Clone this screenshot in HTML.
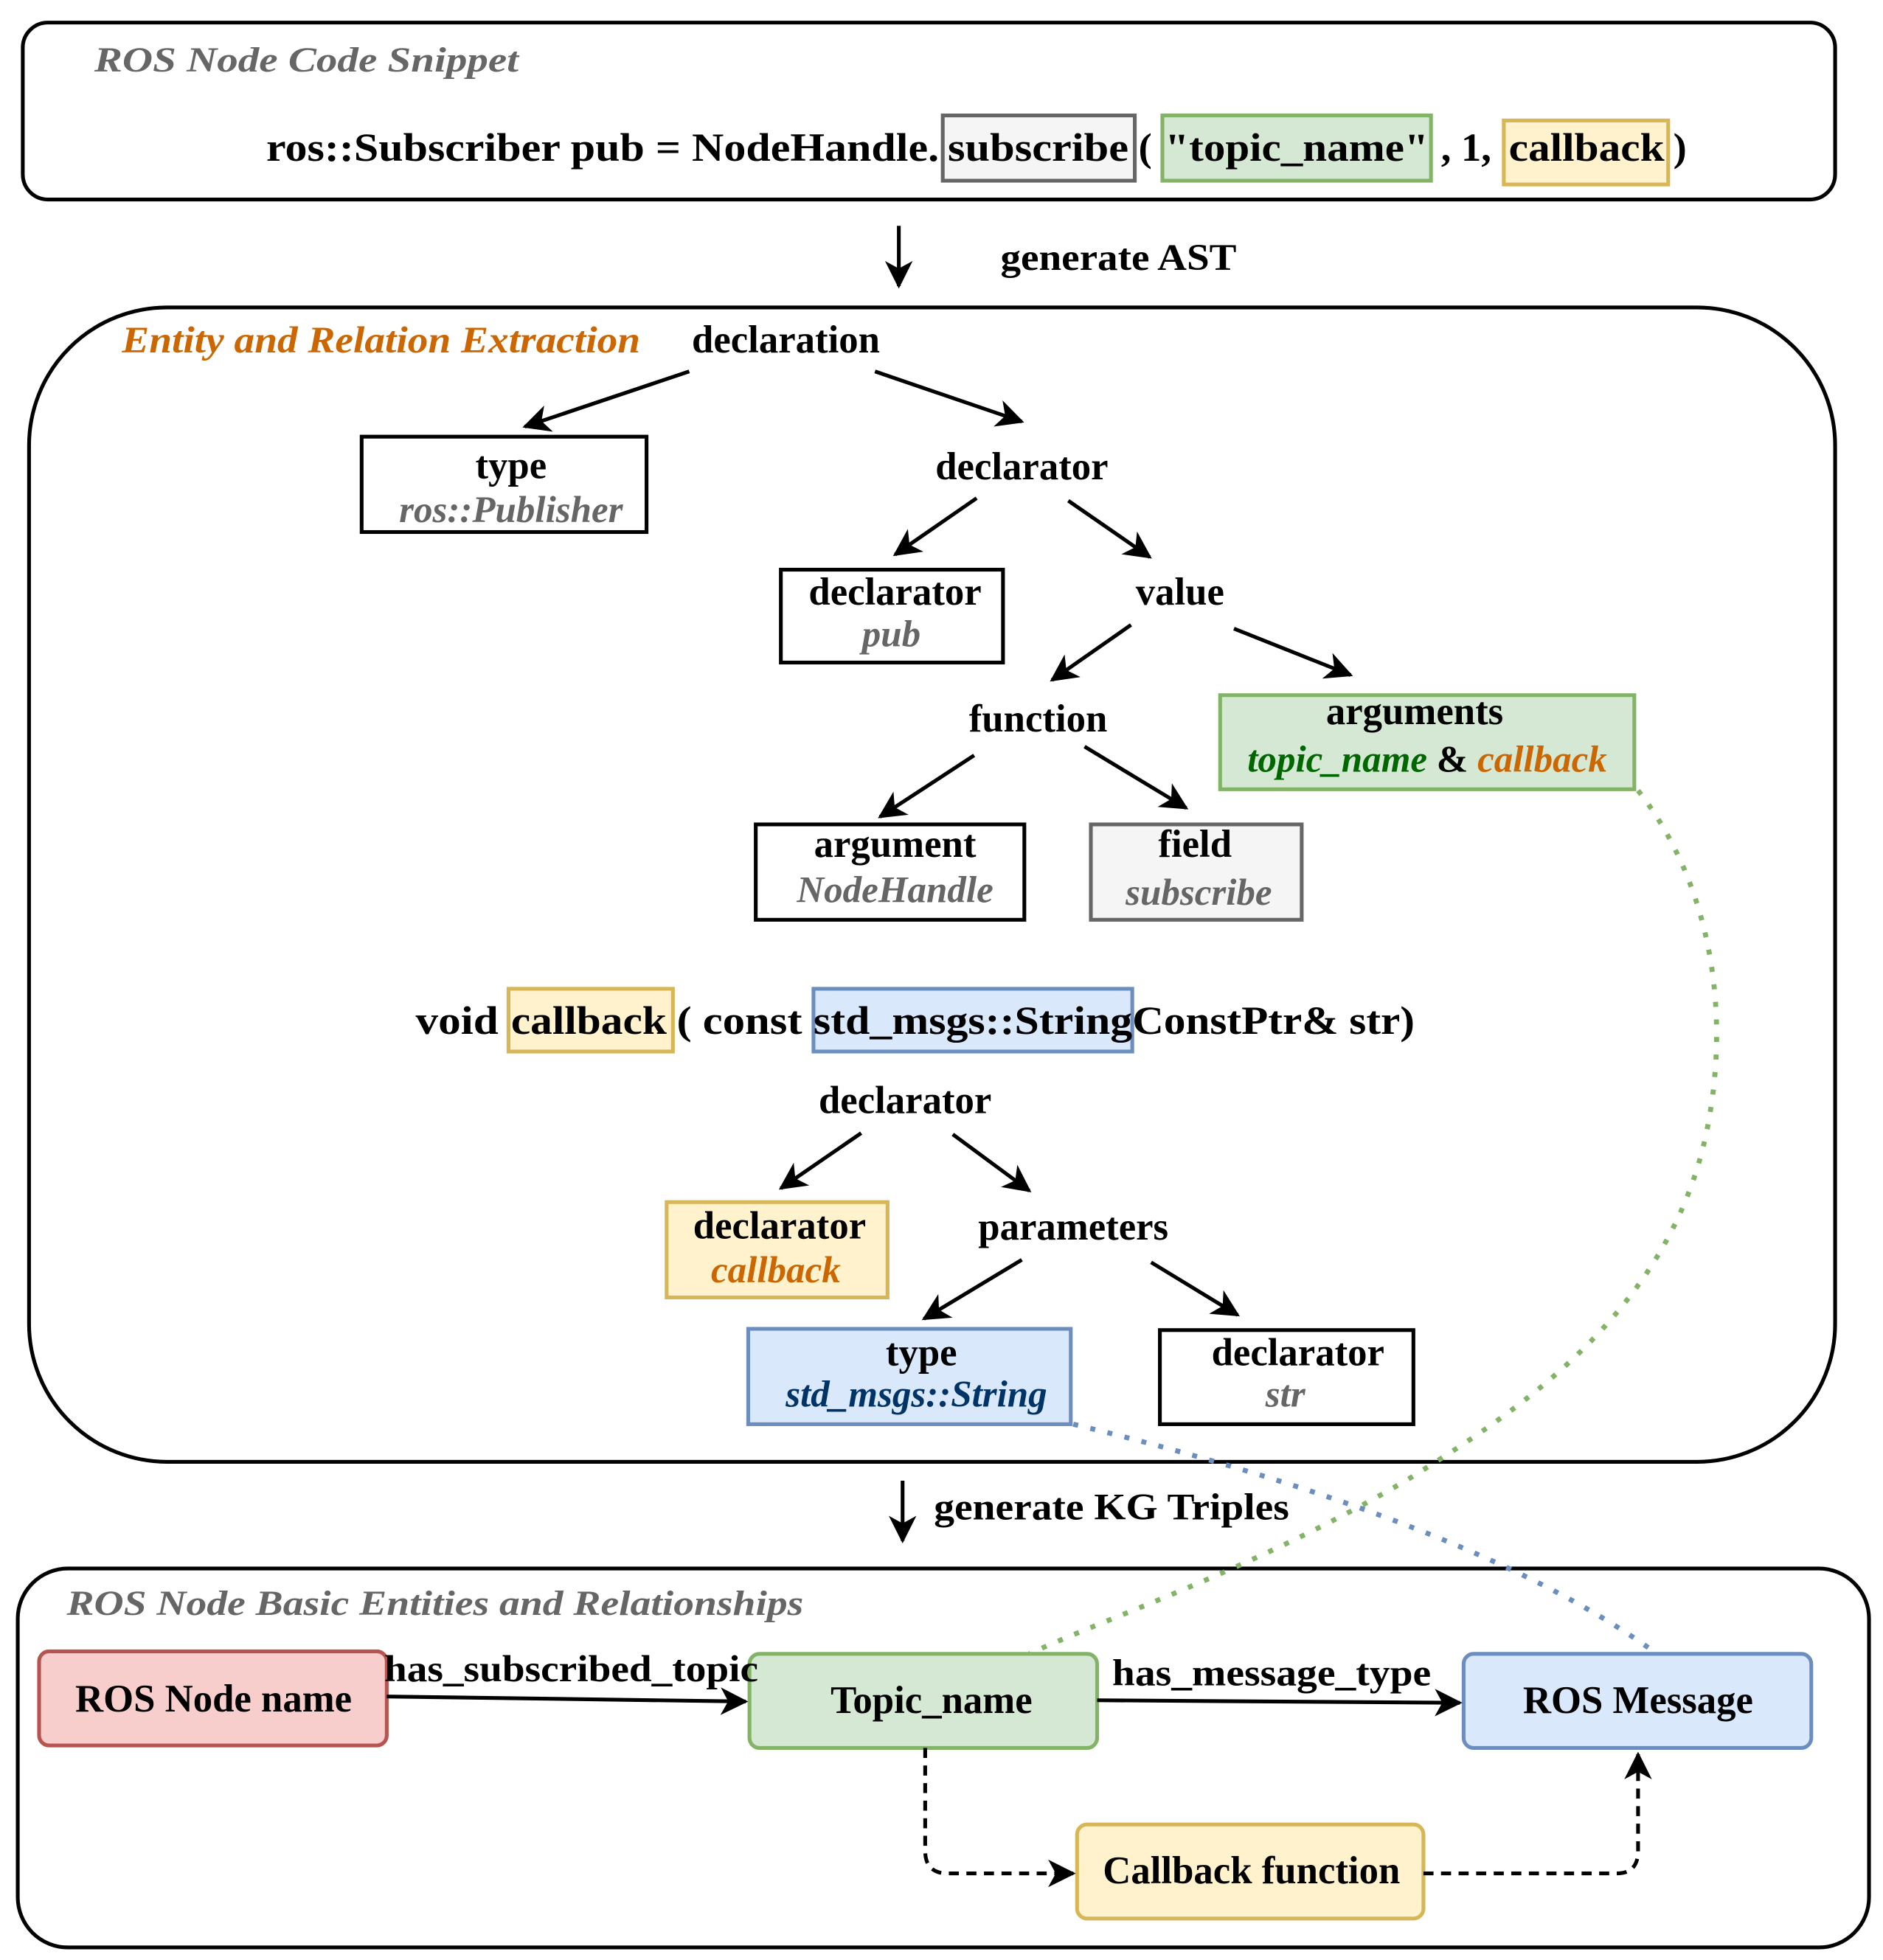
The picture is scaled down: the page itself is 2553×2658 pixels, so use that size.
<!DOCTYPE html>
<html><head><meta charset="utf-8"><style>
html,body{margin:0;padding:0;background:#fff;}
svg{display:block;}
text{font-family:"Liberation Serif",serif;font-weight:bold;}
</style></head><body>
<svg width="2553" height="2658" viewBox="0 0 1500 1562" xmlns="http://www.w3.org/2000/svg">
<defs>
<marker id="ahb" markerWidth="24" markerHeight="22" refX="20" refY="11" orient="auto" markerUnits="userSpaceOnUse">
<path d="M0,0 L22,11 L0,22 L6,11 Z" fill="#000"/>
</marker>
</defs>
<g fill="none" stroke="#000" stroke-width="3">
<rect x="18" y="18" width="1444" height="141" rx="20"/>
<rect x="23" y="245" width="1439" height="920" rx="110"/>
<rect x="14" y="1250" width="1475" height="302" rx="40"/>
</g>
<text x="75" y="57" font-size="28" font-style="italic" fill="#666" textLength="338" lengthAdjust="spacingAndGlyphs">ROS  Node Code Snippet</text>
<rect x="751" y="92" width="153" height="52" fill="#f5f5f5" stroke="#666" stroke-width="3"/>
<rect x="926" y="92" width="214" height="52" fill="#d5e8d4" stroke="#82b366" stroke-width="3"/>
<rect x="1198" y="96" width="131" height="51" fill="#fff2cc" stroke="#d6b656" stroke-width="3"/>
<g font-size="32">
<text x="212" y="128" textLength="536" lengthAdjust="spacingAndGlyphs">ros::Subscriber pub = NodeHandle.</text>
<text x="755" y="128" textLength="144" lengthAdjust="spacingAndGlyphs">subscribe</text>
<text x="907" y="128">(</text>
<text x="928" y="128" textLength="210" lengthAdjust="spacingAndGlyphs">"topic_name"</text>
<text x="1148" y="128">, 1,</text>
<text x="1202" y="128" textLength="124" lengthAdjust="spacingAndGlyphs">callback</text>
<text x="1333" y="128">)</text>
</g>
<line x1="716" y1="180" x2="716" y2="228" stroke="#000" stroke-width="3" marker-end="url(#ahb)"/>
<text x="797" y="215" font-size="30" textLength="188" lengthAdjust="spacingAndGlyphs">generate AST</text>
<text x="97" y="281" font-size="30" font-style="italic" fill="#cc6600" textLength="413" lengthAdjust="spacingAndGlyphs">Entity and Relation Extraction</text>
<g font-size="31" text-anchor="middle">
<text x="626" y="281">declaration</text>
<text x="814" y="382">declarator</text>
<text x="940" y="482">value</text>
<text x="827" y="583">function</text>
<text x="721" y="887">declarator</text>
<text x="855" y="988">parameters</text>
</g>
<g stroke-width="3">
<rect x="288" y="348" width="227" height="76" fill="#fff" stroke="#000"/>
<rect x="622" y="454" width="177" height="74" fill="#fff" stroke="#000"/>
<rect x="972" y="554" width="330" height="75" fill="#d5e8d4" stroke="#82b366"/>
<rect x="602" y="657" width="214" height="76" fill="#fff" stroke="#000"/>
<rect x="869" y="657" width="168" height="76" fill="#f5f5f5" stroke="#666"/>
<rect x="405" y="788" width="131" height="50" fill="#fff2cc" stroke="#d6b656"/>
<rect x="648" y="788" width="254" height="50" fill="#dae8fc" stroke="#6c8ebf"/>
<rect x="531" y="958" width="176" height="76" fill="#fff2cc" stroke="#d6b656"/>
<rect x="596" y="1059" width="257" height="76" fill="#dae8fc" stroke="#6c8ebf"/>
<rect x="924" y="1060" width="202" height="75" fill="#fff" stroke="#000"/>
</g>
<g font-size="31" text-anchor="middle">
<text x="407" y="381">type</text>
<text x="407" y="416" font-style="italic" fill="#666" font-size="30">ros::Publisher</text>
<text x="713" y="482">declarator</text>
<text x="710" y="515" font-style="italic" fill="#666" font-size="30">pub</text>
<text x="1127" y="577">arguments</text>
<text x="1137" y="615" font-size="30"><tspan font-style="italic" fill="#006600">topic_name</tspan> &amp; <tspan font-style="italic" fill="#cc6600">callback</tspan></text>
<text x="713" y="683">argument</text>
<text x="713" y="719" font-style="italic" fill="#666" font-size="30">NodeHandle</text>
<text x="952" y="683">field</text>
<text x="955" y="721" font-style="italic" fill="#666" font-size="30">subscribe</text>
<text x="621" y="987">declarator</text>
<text x="618" y="1022" font-style="italic" fill="#cc6600" font-size="30">callback</text>
<text x="734" y="1088">type</text>
<text x="730" y="1121" font-style="italic" fill="#003366" font-size="30">std_msgs::String</text>
<text x="1034" y="1088">declarator</text>
<text x="1024" y="1121" font-style="italic" fill="#666" font-size="30">str</text>
</g>
<g font-size="32">
<text x="331" y="824" textLength="66" lengthAdjust="spacingAndGlyphs">void</text>
<text x="407" y="824" textLength="124" lengthAdjust="spacingAndGlyphs">callback</text>
<text x="539" y="824" textLength="100" lengthAdjust="spacingAndGlyphs">( const</text>
<text x="648" y="824" textLength="254" lengthAdjust="spacingAndGlyphs">std_msgs::String</text>
<text x="902" y="824" textLength="225" lengthAdjust="spacingAndGlyphs">ConstPtr&amp; str)</text>
</g>
<g stroke="#000" stroke-width="3" marker-end="url(#ahb)">
<line x1="549" y1="296" x2="418" y2="340"/>
<line x1="697" y1="296" x2="814" y2="336"/>
<line x1="778" y1="397" x2="713" y2="442"/>
<line x1="851" y1="399" x2="916" y2="444"/>
<line x1="901" y1="498" x2="838" y2="542"/>
<line x1="983" y1="501" x2="1076" y2="538"/>
<line x1="776" y1="602" x2="701" y2="651"/>
<line x1="864" y1="595" x2="945" y2="644"/>
<line x1="686" y1="903" x2="622" y2="947"/>
<line x1="759" y1="904" x2="820" y2="949"/>
<line x1="814" y1="1004" x2="736" y2="1051"/>
<line x1="917" y1="1006" x2="986" y2="1048"/>
<line x1="719" y1="1180" x2="719" y2="1228"/>
</g>
<text x="744" y="1211" font-size="30" textLength="283" lengthAdjust="spacingAndGlyphs">generate KG Triples</text>
<path d="M1305,630 C1360,700 1380,800 1360,900 C1330,1050 1200,1130 1120,1180 C1000,1250 880,1290 820,1318" fill="none" stroke="#82b366" stroke-width="4" stroke-dasharray="4,10"/>
<path d="M855,1135 C1000,1170 1200,1230 1320,1318" fill="none" stroke="#6c8ebf" stroke-width="4" stroke-dasharray="4,10"/>
<text x="53" y="1287" font-size="28" font-style="italic" fill="#666" textLength="587" lengthAdjust="spacingAndGlyphs">ROS Node Basic Entities and Relationships</text>
<g stroke-width="3">
<rect x="31" y="1316" width="277" height="75" rx="8" fill="#f8cecc" stroke="#b85450"/>
<rect x="597" y="1318" width="277" height="75" rx="8" fill="#d5e8d4" stroke="#82b366"/>
<rect x="1166" y="1318" width="277" height="75" rx="8" fill="#dae8fc" stroke="#6c8ebf"/>
<rect x="858" y="1454" width="276" height="75" rx="8" fill="#fff2cc" stroke="#d6b656"/>
</g>
<g font-size="31" text-anchor="middle">
<text x="170" y="1364">ROS Node name</text>
<text x="742" y="1365">Topic_name</text>
<text x="1305" y="1365">ROS Message</text>
<text x="997" y="1501">Callback function</text>
</g>
<g stroke="#000" stroke-width="3" fill="none">
<line x1="308" y1="1352" x2="594" y2="1356" marker-end="url(#ahb)"/>
<line x1="874" y1="1355" x2="1163" y2="1357" marker-end="url(#ahb)"/>
<path d="M737,1393 L737,1475 Q737,1493 755,1493 L855,1493" stroke-dasharray="8,6" marker-end="url(#ahb)"/>
<path d="M1134,1493 L1288,1493 Q1305,1493 1305,1475 L1305,1398" stroke-dasharray="8,6" marker-end="url(#ahb)"/>
</g>
<text x="306" y="1340" font-size="30" textLength="298" lengthAdjust="spacingAndGlyphs">has_subscribed_topic</text>
<text x="886" y="1343" font-size="30" textLength="254" lengthAdjust="spacingAndGlyphs">has_message_type</text>
</svg>
</body></html>
